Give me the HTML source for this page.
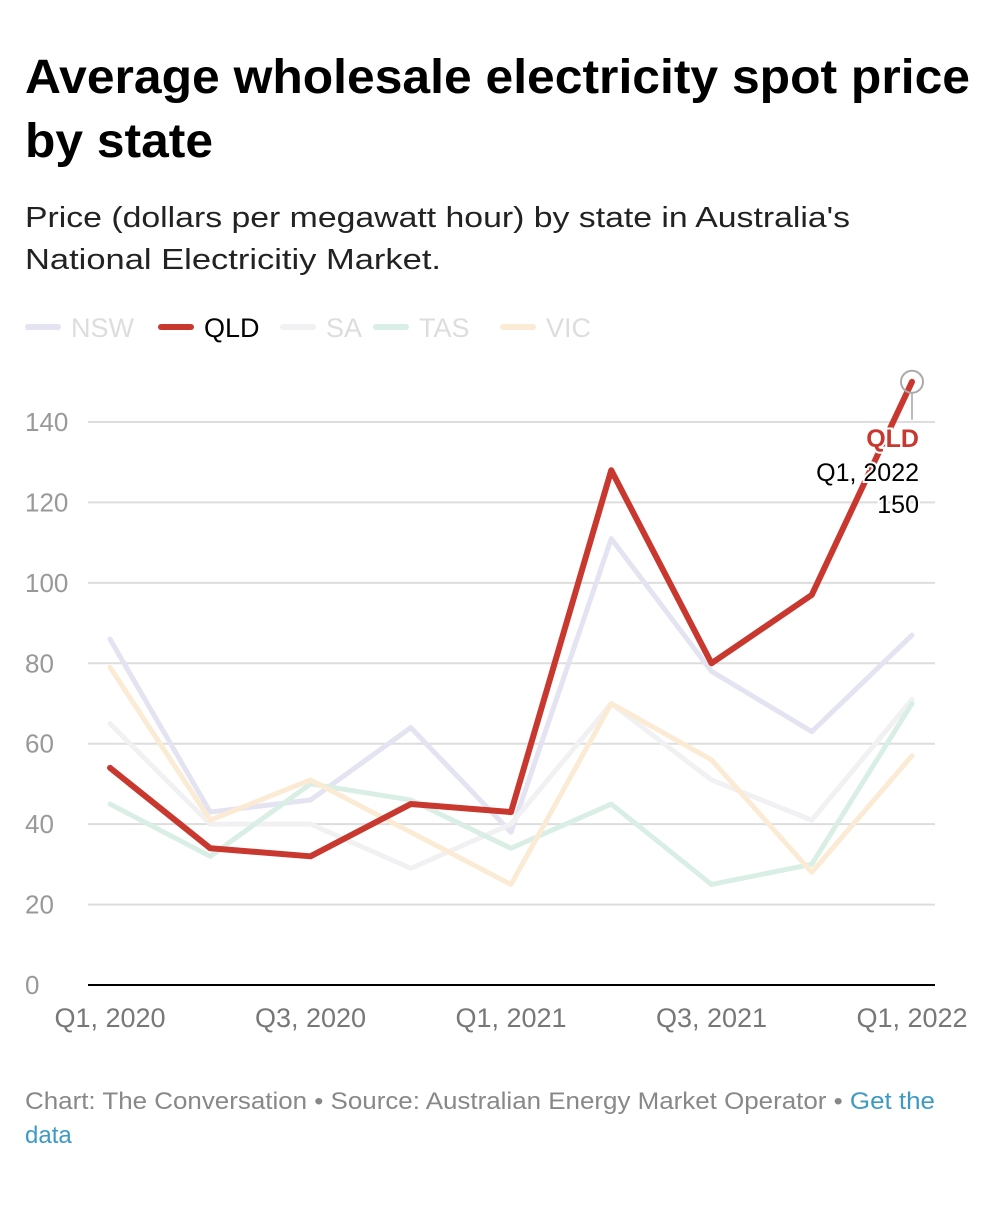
<!DOCTYPE html>
<html><head><meta charset="utf-8"><style>
body{margin:0;background:#fff;width:998px;height:1200px;overflow:hidden;font-family:"Liberation Sans",sans-serif}
</style></head><body>
<svg width="998" height="1200" xmlns="http://www.w3.org/2000/svg" font-family="Liberation Sans, sans-serif">
<text x="25" y="93" font-size="48" font-weight="bold" fill="#000" textLength="945" lengthAdjust="spacingAndGlyphs">Average wholesale electricity spot price</text>
<text x="25" y="157" font-size="48" font-weight="bold" fill="#000" textLength="188" lengthAdjust="spacingAndGlyphs">by state</text>
<text x="25" y="227" font-size="29" fill="#222" textLength="825" lengthAdjust="spacingAndGlyphs">Price (dollars per megawatt hour) by state in Australia's</text>
<text x="25" y="269" font-size="29" fill="#222" textLength="416" lengthAdjust="spacingAndGlyphs">National Electricitiy Market.</text>
<g id="legend"></g>
<g id="grid"></g><g id="lines"></g><g id="annot"></g>
<text x="25" y="1109" font-size="24" fill="#888" textLength="910" lengthAdjust="spacingAndGlyphs">Chart: The Conversation • Source: Australian Energy Market Operator • <tspan fill="#3d9ac5">Get the</tspan></text>
<text x="25" y="1143" font-size="24" fill="#3d9ac5">data</text>
</svg>
<script>
const categories=["Q1, 2020","Q2, 2020","Q3, 2020","Q4, 2020","Q1, 2021","Q2, 2021","Q3, 2021","Q4, 2021","Q1, 2022"];
const nsw=[86,43,46,64,38,111,78,63,87];
const qld=[54,34,32,45,43,128,80,97,150];
const sa=[65,40,40,29,40,70,51,41,71];
const tas=[45,32,50,46,34,45,25,30,70];
const vic=[79,41,51,38,25,70,56,28,57];
const yTicks=[0,20,40,60,80,100,120,140];
const xTickLabels=["Q1, 2020","Q3, 2020","Q1, 2021","Q3, 2021","Q1, 2022"];
const NS="http://www.w3.org/2000/svg";
const x=i=>110+i*(912-110)/(categories.length-1);
const y=v=>985-v*(985-422)/140;
function mk(t,a,p){const e=document.createElementNS(NS,t);for(const k in a)e.setAttribute(k,a[k]);p.appendChild(e);return e;}
const grid=document.getElementById('grid');
yTicks.forEach(v=>{
 const l=mk('line',{x1:88,x2:935,y1:y(v),y2:y(v),stroke:v===0?'#000':'#ddd','stroke-width':2},grid);
 
 
 const t=mk('text',{x:25,y:y(v)+9,'font-size':26,fill:'#999'},grid);t.textContent=v;
 
 
});
xTickLabels.forEach(s=>{const i=categories.indexOf(s);
 const t=mk('text',{x:x(i),y:1027,'font-size':27,fill:'#777','text-anchor':'middle'},grid);t.textContent=s;
 
 
});
const series=[["NSW",nsw,"#e3e3f2"],["SA",sa,"#f1f1f3"],["TAS",tas,"#d9efe5"],["VIC",vic,"#fcebd4"],["QLD",qld,"#c8382f"]];
const lines=document.getElementById('lines');
series.forEach(([n,d,c])=>{
 const p=mk('path',{d:d.map((v,i)=>(i?'L':'M')+x(i)+','+y(v)).join(''),fill:'none',stroke:c,'stroke-width':n==='QLD'?6:5,'stroke-linejoin':'round','stroke-linecap':'round'},lines);
 
 
});
const leg=document.getElementById('legend');
const legItems=[["NSW","#e3e3f2",25],["QLD","#c8382f",158],["SA","#f1f1f3",280],["TAS","#d9efe5",373],["VIC","#fcebd4",500]];
legItems.forEach(([n,c,lx])=>{
 const g=mk('g',{},leg);
 
 
 mk('line',{x1:lx+3,x2:lx+33,y1:327,y2:327,stroke:c,'stroke-width':6,'stroke-linecap':'round'},g);
 const t=mk('text',{x:lx+46,y:337,'font-size':27,fill:n==='QLD'?'#000':'#ddd'},g);t.textContent=n;
});
const an=document.getElementById('annot');
const li=categories.length-1;
mk('line',{x1:x(li),x2:x(li),y1:y(qld[li])+11,y2:y(qld[li])+38,stroke:'#bbb','stroke-width':2},an);
const c=mk('circle',{cx:x(li),cy:y(qld[li]),r:11,fill:'none',stroke:'#aaa','stroke-width':2},an);


[["QLD",447,'#c8382f','bold'],[categories[li],481,'#000','normal'],[String(qld[li]),513,'#000','normal']].forEach(([s,ty,f,w])=>{
 const t=mk('text',{x:919,y:ty,'font-size':25,fill:f,'font-weight':w,'text-anchor':'end',stroke:'#fff','stroke-width':4,'paint-order':'stroke'},an);t.textContent=s;
 
 
});
</script>
</body></html>
